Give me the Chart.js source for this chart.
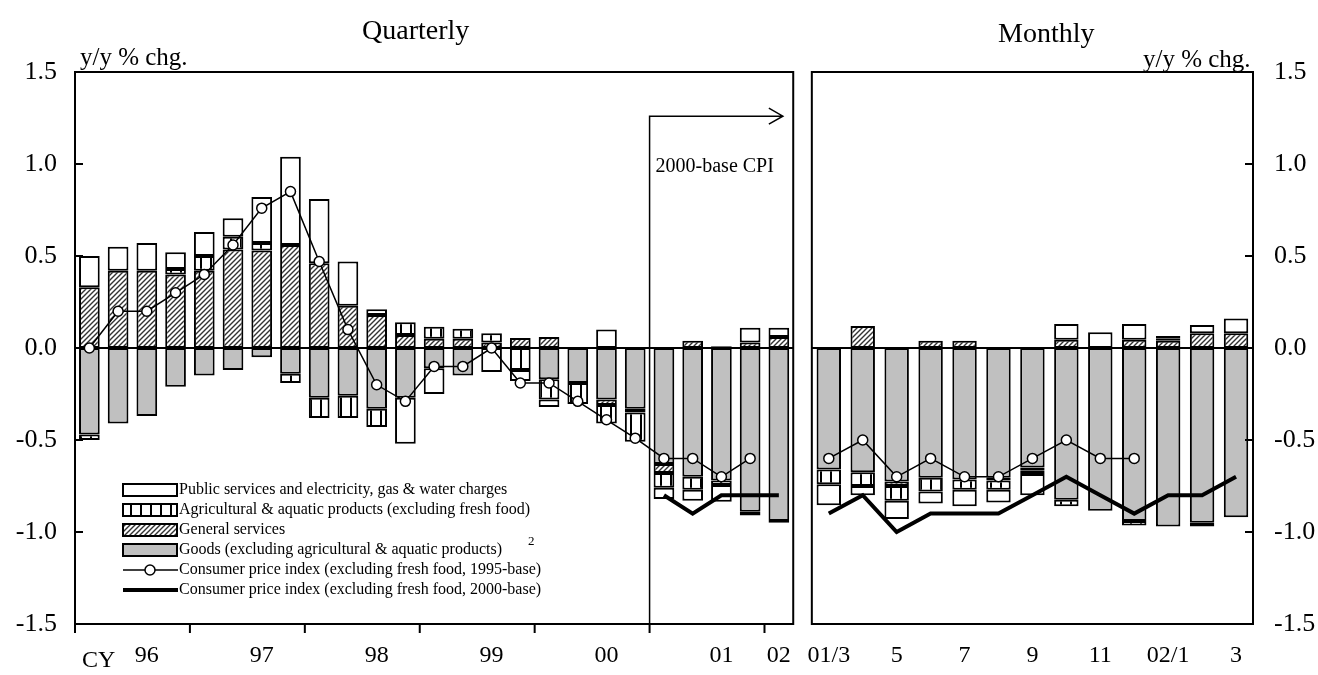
<!DOCTYPE html>
<html>
<head>
<meta charset="utf-8">
<script src="https://cdn.jsdelivr.net/npm/chart.js@4.4.1/dist/chart.umd.min.js"></script>
<style>
  body { margin: 0; background: #fff; width: 1318px; height: 675px; overflow: hidden; position: relative;
         font-family: "Liberation Serif", "Times New Roman", serif; color: #000; }
  canvas { position: absolute; top: 0; }
  #quarterly { left: 0; }
  #monthly { left: 790px; }
  .txt { position: absolute; white-space: nowrap; line-height: 1; }
</style>
</head>
<body>
<canvas id="quarterly" width="808" height="675" style="width:808px;height:675px"></canvas>
<canvas id="monthly" width="528" height="675" style="width:528px;height:675px"></canvas>
<div class="txt" style="left:362px;top:16px;font-size:28px">Quarterly</div>
<div class="txt" style="left:998px;top:19px;font-size:28px">Monthly</div>
<div class="txt" style="left:80px;top:44px;font-size:25px">y/y % chg.</div>
<div class="txt" style="left:1143px;top:46px;font-size:25px">y/y % chg.</div>
<div class="txt" style="left:82px;top:647px;font-size:24px">CY</div>

<script>
// ---- data ----
const seriesNames = [
  'Goods (excluding agricultural & aquatic products)',
  'General services',
  'Agricultural & aquatic products (excluding fresh food)',
  'Public services and electricity, gas & water charges',
  'Consumer price index (excluding fresh food, 1995-base)',
  'Consumer price index (excluding fresh food, 2000-base)'
];

const quarters = ['96/1','96/2','96/3','96/4','97/1','97/2','97/3','97/4','98/1','98/2','98/3','98/4',
  '99/1','99/2','99/3','99/4','00/1','00/2','00/3','00/4','01/1','01/2','01/3','01/4','02/1'];
const quarterTicks = ['', '', '96', '', '', '', '97', '', '', '', '98', '', '', '', '99', '', '', '', '00', '', '', '', '01', '', '02'];

const qGoods   = [-0.47,-0.41,-0.37,-0.21,-0.15,-0.12,-0.05,-0.14,-0.27,-0.26,-0.33,-0.27,-0.11,-0.15,0,0,-0.17,-0.19,-0.28,-0.33,-0.63,-0.70,-0.72,-0.89,-0.94];
const qGeneral = [0.33,0.42,0.42,0.40,0.42,0.535,0.53,0.56,0.46,0.23,0.18,0.07,0.05,0.05,0.03,0.055,0.06,0,-0.03,-0.02,-0.05,0.04,0.01,0.03,0.06];
const qAgri    = [-0.03,0,0,0.03,0.08,0.07,0.04,-0.05,-0.11,-0.12,-0.10,0.07,0.065,0.055,0.05,-0.12,-0.11,-0.115,-0.10,-0.16,-0.08,-0.07,-0.025,-0.02,-0.01];
const qPublic  = [0.17,0.13,0.15,0.09,0.13,0.10,0.25,0.48,0.35,0.24,0.03,-0.25,-0.14,0,-0.13,-0.06,-0.04,0,0.10,0,-0.06,-0.06,-0.09,0.08,0.05];
const qCpi95   = [0.0,0.2,0.2,0.3,0.4,0.56,0.76,0.85,0.47,0.1,-0.2,-0.29,-0.1,-0.1,0.0,-0.19,-0.19,-0.29,-0.39,-0.49,-0.6,-0.6,-0.7,-0.6,null];
const qCpi00   = [null,null,null,null,null,null,null,null,null,null,null,null,null,null,null,null,null,null,null,null,-0.8,-0.9,-0.8,-0.8,-0.8];

const months = ['01/3','01/4','01/5','01/6','01/7','01/8','01/9','01/10','01/11','01/12','02/1','02/2','02/3'];
const monthTicks = ['01/3', '', '5', '', '7', '', '9', '', '11', '', '02/1', '', '3'];

const mGoods   = [-0.66,-0.675,-0.725,-0.705,-0.715,-0.705,-0.65,-0.825,-0.885,-0.94,-0.97,-0.95,-0.92];
const mGeneral = [0,0.12,-0.025,0.04,0.04,-0.015,-0.015,0.045,0,0.045,0.04,0.08,0.08];
const mAgri    = [-0.08,-0.075,-0.08,-0.075,-0.055,-0.05,-0.02,-0.035,0,-0.025,0.01,-0.02,0];
const mPublic  = [-0.115,-0.05,-0.10,-0.065,-0.09,-0.07,-0.115,0.085,0.085,0.085,0.015,0.045,0.08];
const mCpi95   = [-0.6,-0.5,-0.7,-0.6,-0.7,-0.7,-0.6,-0.5,-0.6,-0.6,null,null,null];
const mCpi00   = [-0.9,-0.8,-1.0,-0.9,-0.9,-0.9,-0.8,-0.7,-0.8,-0.9,-0.8,-0.8,-0.7];

// ---- fills ----
const FONT = '"Liberation Serif", "Times New Roman", serif';

function makePattern(w, h, draw) {
  const c = document.createElement('canvas');
  c.width = w; c.height = h;
  const g = c.getContext('2d');
  draw(g, w, h);
  return g.createPattern(c, 'repeat');
}

const hatchFill = makePattern(5, 5, (g, w, h) => {
  g.fillStyle = '#fff'; g.fillRect(0, 0, w, h);
  g.strokeStyle = '#333'; g.lineWidth = 1.4;
  g.beginPath();
  g.moveTo(-1, h + 1); g.lineTo(w + 1, -1);
  g.moveTo(-1, 1); g.lineTo(1, -1);
  g.moveTo(w - 1, h + 1); g.lineTo(w + 1, h - 1);
  g.stroke();
});

const gridFill = makePattern(10, 10, (g, w, h) => {
  g.fillStyle = '#fff'; g.fillRect(0, 0, w, h);
  g.fillStyle = '#000'; g.fillRect(0, 0, 2, h);
});

const barFills = ['#c0c0c0', hatchFill, gridFill, '#fff'];

const nz = arr => arr.map(v => (v === 0 ? null : v));

function barSet(label, data, fill) {
  return {
    type: 'bar', label, data: nz(data), backgroundColor: fill,
    borderColor: '#000', borderWidth: 2, borderSkipped: false,
    stack: 'bars', order: 1, barPercentage: 0.72, categoryPercentage: 1.0
  };
}

function lineSets(cpi95, cpi00) {
  return [
    { type: 'line', label: seriesNames[4], data: cpi95, borderColor: '#000', borderWidth: 1.5,
      pointRadius: 5, pointBackgroundColor: '#fff', pointBorderColor: '#000', pointBorderWidth: 1.5,
      stack: 'l95', order: 0, spanGaps: false },
    { type: 'line', label: seriesNames[5], data: cpi00, borderColor: '#000', borderWidth: 4,
      pointRadius: 0, stack: 'l00', order: 0, spanGaps: false }
  ];
}

// frame, zero line, tick marks and extras
const framePlugin = {
  id: 'frame',
  beforeDatasetsDraw(chart) {
    const { ctx, chartArea: a, scales: { y } } = chart;
    ctx.save();
    ctx.strokeStyle = '#000'; ctx.lineWidth = 2;
    const y0 = y.getPixelForValue(0);
    ctx.beginPath(); ctx.moveTo(a.left, y0); ctx.lineTo(a.right, y0); ctx.stroke();
    ctx.restore();
  },
  afterDraw(chart, args, opts) {
    const { ctx, chartArea: a, scales: { x, y } } = chart;
    ctx.save();
    ctx.strokeStyle = '#000'; ctx.lineWidth = 2;
    ctx.strokeRect(a.left, a.top, a.right - a.left, a.bottom - a.top);
    // inward y ticks
    const side = opts.tickSide;
    ctx.beginPath();
    y.ticks.forEach(t => {
      const py = y.getPixelForValue(t.value);
      if (side === 'left') { ctx.moveTo(a.left, py); ctx.lineTo(a.left + 8, py); }
      else { ctx.moveTo(a.right, py); ctx.lineTo(a.right - 8, py); }
    });
    ctx.stroke();
    // year boundary ticks on x
    if (opts.yearTicks) {
      const half = (x.getPixelForValue(1) - x.getPixelForValue(0)) / 2;
      ctx.beginPath();
      for (let i = 0; i < x.ticks.length; i += 4) {
        const px = x.getPixelForValue(i) - half;
        ctx.moveTo(px, a.bottom); ctx.lineTo(px, a.bottom + 9);
      }
      ctx.stroke();
    }
    if (opts.baseNote) drawBaseNote(chart);
    if (opts.legend) drawLegend(chart);
    ctx.restore();
  }
};

function drawBaseNote(chart) {
  const { ctx, chartArea: a, scales: { x, y } } = chart;
  const half = (x.getPixelForValue(1) - x.getPixelForValue(0)) / 2;
  const bx = x.getPixelForValue(20) - half;
  const ty = y.getPixelForValue(1.26);
  const ex = x.getPixelForValue(24) + 4;
  ctx.strokeStyle = '#000'; ctx.lineWidth = 1.5;
  ctx.beginPath();
  ctx.moveTo(bx, a.bottom); ctx.lineTo(bx, ty); ctx.lineTo(ex, ty);
  ctx.moveTo(ex - 14, ty - 8); ctx.lineTo(ex, ty); ctx.lineTo(ex - 14, ty + 8);
  ctx.stroke();
  ctx.fillStyle = '#000';
  ctx.font = '20px ' + FONT;
  ctx.textBaseline = 'middle'; ctx.textAlign = 'left';
  ctx.fillText('2000-base CPI', bx + 6, y.getPixelForValue(1.0) + 3);
}

function drawLegend(chart) {
  const { ctx } = chart;
  const x0 = 123, x1 = 177, top = 490, step = 20;
  const order = [3, 2, 1, 0];
  ctx.lineWidth = 2; ctx.strokeStyle = '#000';
  ctx.font = '16px ' + FONT;
  ctx.textBaseline = 'middle'; ctx.textAlign = 'left';
  order.forEach((k, i) => {
    const cy = top + i * step;
    ctx.fillStyle = barFills[k];
    ctx.fillRect(x0, cy - 6, x1 - x0, 12);
    ctx.strokeRect(x0, cy - 6, x1 - x0, 12);
    ctx.fillStyle = '#000';
    ctx.fillText(seriesNames[k], x1 + 2, cy);
  });
  // footnote mark after goods
  ctx.font = '13px ' + FONT;
  ctx.fillText('2', 528, top + 3 * step - 8);
  ctx.font = '16px ' + FONT;
  // CPI lines
  let cy = top + 4 * step;
  ctx.lineWidth = 1.5;
  ctx.beginPath(); ctx.moveTo(x0, cy); ctx.lineTo(x1 + 1, cy); ctx.stroke();
  ctx.beginPath(); ctx.arc((x0 + x1) / 2, cy, 5, 0, Math.PI * 2);
  ctx.fillStyle = '#fff'; ctx.fill(); ctx.stroke();
  ctx.fillStyle = '#000';
  ctx.fillText(seriesNames[4], x1 + 2, cy);
  cy = top + 5 * step;
  ctx.lineWidth = 4;
  ctx.beginPath(); ctx.moveTo(x0, cy); ctx.lineTo(x1 + 1, cy); ctx.stroke();
  ctx.fillText(seriesNames[5], x1 + 2, cy);
}

function buildChart(id, labels, tickLabels, goods, general, agri, pub, cpi95, cpi00, cfg) {
  const datasets = [
    barSet(seriesNames[0], goods, barFills[0]),
    barSet(seriesNames[1], general, barFills[1]),
    barSet(seriesNames[2], agri, barFills[2]),
    barSet(seriesNames[3], pub, barFills[3]),
    ...lineSets(cpi95, cpi00)
  ];
  return new Chart(document.getElementById(id), {
    data: { labels, datasets },
    options: {
      responsive: false, animation: false, devicePixelRatio: 1,
      layout: { padding: cfg.padding },
      plugins: { legend: { display: false }, tooltip: { enabled: false }, frame: cfg.frame },
      scales: {
        x: {
          stacked: true, offset: true,
          grid: { display: false, drawTicks: false }, border: { display: false },
          ticks: { autoSkip: false, maxRotation: 0, padding: 17, color: '#000',
                   font: { family: FONT, size: 24 }, callback: (v, i) => tickLabels[i] },
          afterFit: s => { s.height = 51; }
        },
        y: {
          stacked: true, position: cfg.yPos, min: -1.5, max: 1.5,
          grid: { display: false, drawTicks: false }, border: { display: false },
          ticks: { stepSize: 0.5, padding: cfg.yPad, color: '#000',
                   font: { family: FONT, size: 26 }, callback: v => v.toFixed(1) },
          afterFit: s => { s.width = cfg.yWidth; }
        }
      }
    },
    plugins: [framePlugin]
  });
}

buildChart('quarterly', quarters, quarterTicks, qGoods, qGeneral, qAgri, qPublic, qCpi95, qCpi00, {
  padding: { top: 72, right: 7, left: 0, bottom: 0 },
  yPos: 'left', yPad: 18, yWidth: 75,
  frame: { tickSide: 'left', yearTicks: true, baseNote: true, legend: true }
});

buildChart('monthly', months, monthTicks, mGoods, mGeneral, mAgri, mPublic, mCpi95, mCpi00, {
  padding: { top: 72, right: 0, left: 12, bottom: 0 },
  yPos: 'right', yPad: 21, yWidth: 65,
  frame: { tickSide: 'right', yearTicks: false, baseNote: false, legend: false }
});
</script>
</body>
</html>
